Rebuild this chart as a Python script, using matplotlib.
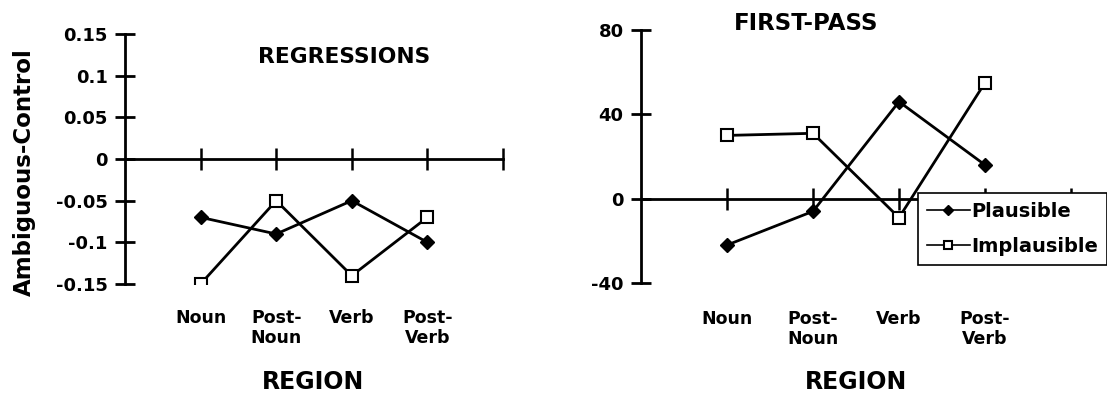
import numpy as np
import matplotlib
matplotlib.use("Agg")
import matplotlib.pyplot as plt

# ── data ─────────────────────────────────────────────────────────────────────
regions = ["Noun", "Post-\nNoun", "Verb", "Post-\nVerb"]

regr_plausible   = [-0.07, -0.09, -0.05, -0.10]
regr_implausible = [-0.15, -0.05, -0.14, -0.07]
regr_yticks      = [-0.15, -0.1, -0.05, 0, 0.05, 0.1, 0.15]
regr_ylabels     = ["-0.15", "-0.1", "-0.05", "0", "0.05", "0.1", "0.15"]

fp_plausible   = [-22, -6, 46, 16]
fp_implausible = [30, 31, -9, 55]
fp_yticks      = [-40, 0, 40, 80]
fp_ylabels     = ["-40", "0", "40", "80"]

plt.rcParams["font.family"] = ["DejaVu Sans"]

W, H = 1107, 398
fig = plt.figure(figsize=(W / 100, H / 100), dpi=100)


def px_axes(x0, x1, ytop, ybot):
    return fig.add_axes([x0 / W, 1 - ybot / H, (x1 - x0) / W, (ybot - ytop) / H])


def style(ax, xmax, yticks, ylabels, ylim, pad):
    x = np.arange(1, len(regions) + 1)
    ax.set_xlim(0, xmax)
    ax.set_ylim(*ylim)
    for s in ("top", "right"):
        ax.spines[s].set_visible(False)
    ax.spines["bottom"].set_position(("data", 0))
    ax.spines["left"].set_linewidth(2)
    ax.spines["bottom"].set_linewidth(2)
    ax.set_xticks(list(x) + [len(regions) + 1])
    ax.set_xticklabels(regions + [""], fontweight="bold")
    ax.tick_params(axis="x", direction="inout", length=16, width=1.8,
                   pad=pad, labelsize=12.5)
    ax.set_yticks(yticks)
    ax.set_yticklabels(ylabels, fontweight="bold")
    ax.tick_params(axis="y", direction="inout", length=15, width=2,
                   labelsize=13, pad=5)
    for lbl in ax.get_xticklabels():
        lbl.set_linespacing(1.15)
    return x


# ── left: regressions ────────────────────────────────────────────────────────
ax1 = px_axes(125, 503, 34, 284)
x = style(ax1, 5, regr_yticks, regr_ylabels, (-0.15, 0.15), 100)
ax1.plot(x, regr_plausible, "-", color="black", lw=2, marker="D",
         ms=7, mfc="black", mec="black", zorder=3)
ax1.plot(x, regr_implausible, "-", color="black", lw=2, marker="s",
         ms=8, mfc="white", mec="black", mew=1.5, zorder=3)
ax1.text((344 - 125) / 378, (284 - 57) / 250, "REGRESSIONS",
         transform=ax1.transAxes, ha="center", va="center",
         fontsize=15.7, fontweight="bold")
ax1.text((313 - 125) / 378, (284 - 382) / 250, "REGION",
         transform=ax1.transAxes, ha="center", va="center",
         fontsize=17, fontweight="bold")
ax1.text((24 - 125) / 378, (284 - 172) / 250, "Ambiguous-Control",
         transform=ax1.transAxes, ha="center", va="center", rotation=90,
         fontsize=16.5, fontweight="bold")

# ── right: first-pass ────────────────────────────────────────────────────────
ax2 = px_axes(641, 1107, 30, 283)
x = style(ax2, 466 / 86, fp_yticks, fp_ylabels, (-40, 80), 72)
ax2.plot(x, fp_plausible, "-", color="black", lw=2, marker="D",
         ms=7, mfc="black", mec="black", zorder=3, label="Plausible")
ax2.plot(x, fp_implausible, "-", color="black", lw=2, marker="s",
         ms=8, mfc="white", mec="black", mew=1.5, zorder=3, label="Implausible")
ax2.text((806 - 641) / 466, (283 - 24) / 253, "FIRST-PASS",
         transform=ax2.transAxes, ha="center", va="center",
         fontsize=16.5, fontweight="bold")
ax2.text((856 - 641) / 466, (283 - 382) / 253, "REGION",
         transform=ax2.transAxes, ha="center", va="center",
         fontsize=17, fontweight="bold")
leg = ax2.legend(loc="upper left",
                 bbox_to_anchor=((918 - 641) / 466, (283 - 193) / 253),
                 borderaxespad=0, fancybox=False, framealpha=1,
                 edgecolor="black", handlelength=2.2,
                 handletextpad=0.1, borderpad=0.45, labelspacing=0.85,
                 markerscale=0.75, prop={"weight": "bold", "size": 14})
leg.get_frame().set_linewidth(1.2)
leg.set_zorder(5)
for h in leg.legend_handles:
    h.set_linewidth(1.2)

fig.savefig("out.png", dpi=100)
